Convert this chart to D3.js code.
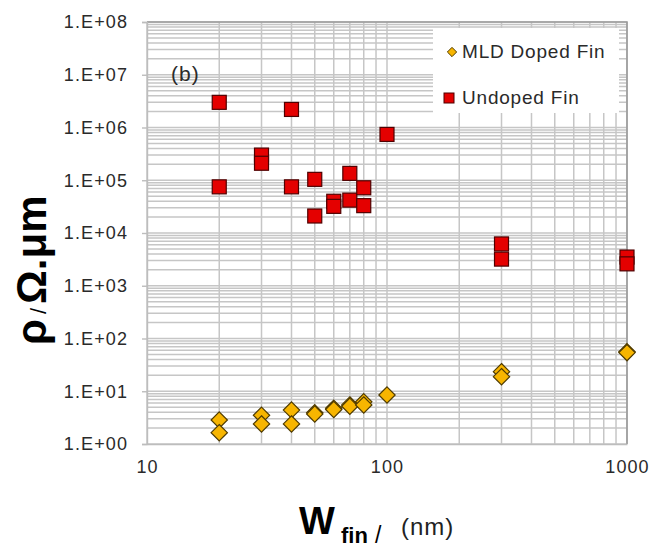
<!DOCTYPE html>
<html>
<head>
<meta charset="utf-8">
<script src="https://cdn.jsdelivr.net/npm/d3@7"></script>
<style>
  body { margin: 0; background: #fff; }
  text { font-family: "Liberation Sans", Arial, Helvetica, sans-serif; }
</style>
</head>
<body>
<div id="vis"></div>
<script>
const width = 652;
const height = 549;

// data
const mldW = [20, 20, 30, 30, 40, 40, 50, 50, 60, 60, 70, 70, 80, 80, 100, 300, 300, 1000, 1000];
const mldRho = [2.85, 1.64, 3.5, 2.4, 4.4, 2.4, 3.9, 3.7, 4.75, 4.5, 5.5, 5.2, 6.3, 5.5, 8.5, 23.5, 18.9, 56, 54];
const undopedW = [20, 20, 30, 30, 40, 40, 50, 50, 60, 60, 70, 70, 80, 80, 100, 300, 300, 1000, 1000];
const undopedRho = [3.0e6, 7.5e4, 3.0e5, 2.1e5, 2.2e6, 7.5e4, 1.04e5, 2.1e4, 4.0e4, 3.2e4, 1.35e5, 4.2e4, 7.2e4, 3.3e4, 7.4e5, 6.2e3, 3.2e3, 3.5e3, 2.6e3];

const xTickVals = [10, 100, 1000];
const xTickLabels = ["10", "100", "1000"];
const yTickVals = [1, 1e1, 1e2, 1e3, 1e4, 1e5, 1e6, 1e7, 1e8];
const yTickLabels = ["1.E+00", "1.E+01", "1.E+02", "1.E+03", "1.E+04", "1.E+05", "1.E+06", "1.E+07", "1.E+08"];

const seriesNames = ["MLD Doped Fin", "Undoped Fin"];

const plotLeft = 147, plotRight = 627, plotTop = 22, plotBottom = 444;

let svg = d3.select("#vis")
    .append("svg")
    .attr("width", width)
    .attr("height", height);

//scales
const x = d3.scaleLog().domain([10, 1000]).range([plotLeft, plotRight]);
const y = d3.scaleLog().domain([1, 1e8]).range([plotBottom, plotTop]);

//gridlines (major + minor, log scale)
const grid = svg.append("g").attr("stroke", "#c6c6c6").attr("stroke-width", 1.5);
grid.selectAll(".hg")
    .data(y.ticks())
    .enter()
    .append("line")
    .attr("x1", plotLeft).attr("x2", plotRight)
    .attr("y1", d => y(d)).attr("y2", d => y(d));
grid.selectAll(".vg")
    .data(x.ticks())
    .enter()
    .append("line")
    .attr("y1", plotTop).attr("y2", plotBottom)
    .attr("x1", d => x(d)).attr("x2", d => x(d));

//plot border, darker on top/right
svg.append("path")
    .attr("d", `M${plotLeft},${plotTop}H${plotRight}V${plotBottom}`)
    .attr("fill", "none")
    .attr("stroke", "#9a9a9a")
    .attr("stroke-width", 1.6);

//y axis
let yAxis = svg.append("g")
    .attr("transform", "translate(" + plotLeft + ",0)")
    .call(d3.axisLeft(y).tickValues(yTickVals).tickSize(5).tickPadding(14)
        .tickFormat((d, i) => yTickLabels[i]));
yAxis.select(".domain").attr("stroke", "#bdbdbd").attr("stroke-width", 1.4);
yAxis.selectAll(".tick line").attr("stroke", "#bdbdbd").attr("stroke-width", 1.4);
yAxis.selectAll("text")
    .attr("font-size", 18)
    .attr("fill", "#2a2a2a")
    .style("letter-spacing", "1.1px");

//x axis
let xAxis = svg.append("g")
    .attr("transform", "translate(0," + plotBottom + ")")
    .call(d3.axisBottom(x).tickValues(xTickVals).tickSize(0).tickPadding(16)
        .tickFormat((d, i) => xTickLabels[i]));
xAxis.select(".domain").attr("stroke", "#bdbdbd").attr("stroke-width", 1.4);
xAxis.selectAll("text")
    .attr("font-size", 18)
    .attr("fill", "#2a2a2a")
    .style("letter-spacing", "1.1px");

//legend box (covers the grid)
svg.append("rect")
    .attr("x", 433).attr("y", 28)
    .attr("width", 186).attr("height", 85)
    .attr("fill", "#fff");

const diamond = d3.symbol().type(d3.symbolDiamond2);

//markers: doped fin diamonds
svg.selectAll(".mld")
    .data(mldW)
    .enter()
    .append("path")
    .attr("class", "mld")
    .attr("d", diamond.size(170)())
    .attr("transform", (d, i) => `translate(${x(d)},${y(mldRho[i])})`)
    .attr("fill", "#f7b500")
    .attr("stroke", "#4f3b00")
    .attr("stroke-width", 1.2);

//markers: undoped fin squares
svg.selectAll(".und")
    .data(undopedW)
    .enter()
    .append("rect")
    .attr("class", "und")
    .attr("x", d => x(d) - 7)
    .attr("y", (d, i) => y(undopedRho[i]) - 7)
    .attr("width", 14)
    .attr("height", 14)
    .attr("fill", "#e40000")
    .attr("stroke", "#4f0000")
    .attr("stroke-width", 1.2);

//legend entries
svg.append("path")
    .attr("d", diamond.size(55)())
    .attr("transform", "translate(452,52)")
    .attr("fill", "#f7b500")
    .attr("stroke", "#4f3b00")
    .attr("stroke-width", 1);
svg.append("rect")
    .attr("x", 444).attr("y", 93).attr("width", 10).attr("height", 10)
    .attr("fill", "#e40000")
    .attr("stroke", "#4f0000")
    .attr("stroke-width", 1);
svg.selectAll(".legtext")
    .data(seriesNames)
    .enter()
    .append("text")
    .attr("x", 462)
    .attr("y", (d, i) => 58 + i * 46)
    .attr("font-size", 19)
    .attr("fill", "#2a2a2a")
    .style("letter-spacing", "0.8px")
    .text(d => d);

//panel label
svg.append("text")
    .attr("x", 171).attr("y", 81)
    .attr("font-size", 21)
    .attr("fill", "#2a2a2a")
    .style("letter-spacing", "1px")
    .text("(b)");

//y title
let yTitle = svg.append("text")
    .attr("transform", "translate(46,345) rotate(-90)")
    .attr("fill", "#000");
yTitle.append("tspan").attr("font-size", 42).attr("font-weight", "bold").text("ρ");
yTitle.append("tspan").attr("font-size", 22).attr("dx", 5).text("/");
yTitle.append("tspan").attr("font-size", 42).attr("font-weight", "bold").attr("dx", 4).text("Ω.μm");

//x title
svg.append("text")
    .attr("x", 299).attr("y", 534)
    .attr("font-size", 38).attr("font-weight", "bold")
    .text("W");
svg.append("text")
    .attr("x", 341).attr("y", 543)
    .attr("font-size", 22).attr("font-weight", "bold")
    .text("fin");
svg.append("text")
    .attr("x", 375).attr("y", 543)
    .attr("font-size", 23)
    .text("/");
svg.append("text")
    .attr("x", 401).attr("y", 535)
    .attr("font-size", 24)
    .attr("fill", "#222")
    .style("letter-spacing", "1px")
    .text("(nm)");
</script>
</body>
</html>
